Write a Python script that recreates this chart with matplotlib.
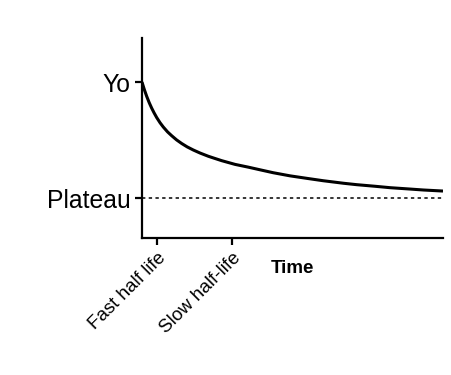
import matplotlib
matplotlib.use("Agg")
import matplotlib.pyplot as plt

plt.rcParams['font.family'] = ['Liberation Sans', 'DejaVu Sans']

# curve points (time, fraction of span above plateau)
time = [0, 0.04, 0.08, 0.156, 0.24, 0.322, 0.40, 0.488, 0.60, 0.708, 0.85,
        0.987, 1.15, 1.319, 1.5, 1.704, 1.927, 2.203, 2.4, 2.648, 3.09, 3.532,
        3.977, 4.36, 4.92, 5.49, 6.02, 6.7, 7.13, 7.75, 8.24, 8.86, 9.35, 10.0]
resp = [1.0, 0.966, 0.933, 0.877, 0.822, 0.775, 0.735, 0.694, 0.649, 0.612,
        0.570, 0.537, 0.501, 0.470, 0.441, 0.414, 0.388, 0.360, 0.343, 0.322,
        0.290, 0.266, 0.240, 0.218, 0.191, 0.169, 0.149, 0.127, 0.115, 0.101,
        0.089, 0.078, 0.069, 0.060]

plateau = 0.0
yo = 1.0
fast_half = 0.5
slow_half = 3.0

fig = plt.figure(figsize=(4.52, 3.75), dpi=100)
ax = fig.add_axes([142/452, 137/375, 301/452, 200/375])

ax.plot(time, resp, color='black', lw=2.2, solid_capstyle='butt',
        solid_joinstyle='round')
ax.axhline(plateau, color='black', lw=1.1, linestyle=(0, (2.2, 2.2)))

ax.set_xlim(0, 10)
ax.set_ylim(-0.345, 1.38)

ax.spines['top'].set_visible(False)
ax.spines['right'].set_visible(False)
for s in ['left', 'bottom']:
    ax.spines[s].set_linewidth(1.6)

ax.set_yticks([plateau, yo])
ax.set_yticklabels(['Plateau', 'Yo'], fontsize=17.8)
ax.set_xticks([fast_half, slow_half])
ax.set_xticklabels(['Fast half life', 'Slow half-life'], fontsize=13.5,
                   rotation=45, ha='right', rotation_mode='anchor')
ax.tick_params(axis='both', width=1.6, length=5, pad=3)

ax.set_xlabel('Time', fontsize=13.5, fontweight='bold')
ax.xaxis.set_label_coords(0.5, -0.11)

fig.savefig('out.png', dpi=100)
